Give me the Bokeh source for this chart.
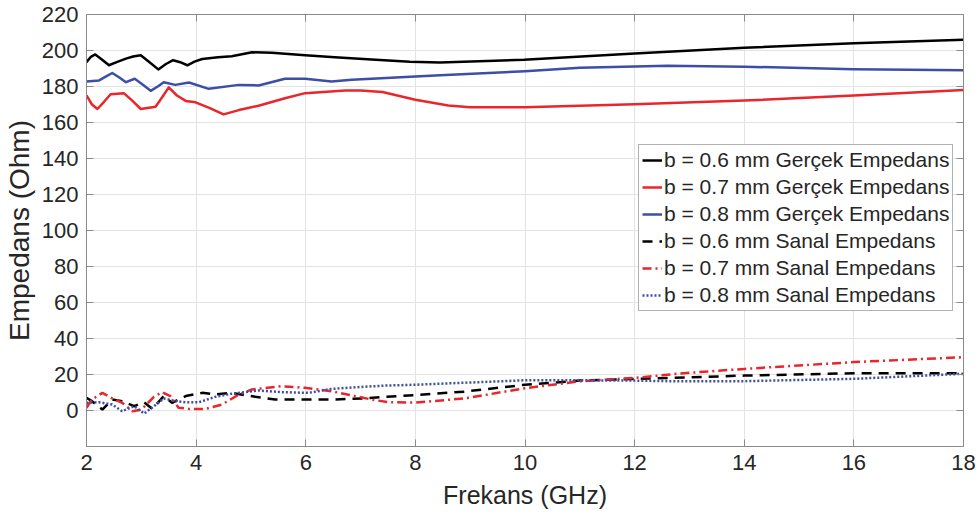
from bokeh.plotting import figure
from bokeh.models import LinearAxis, FixedTicker, Legend, LegendItem, Range1d
from bokeh.embed import file_html
from bokeh.resources import INLINE

# ---- data ----
f_re06 = [2.0, 2.08, 2.16, 2.28, 2.41, 2.55, 2.72, 2.85, 2.99, 3.15, 3.31, 3.45, 3.58, 3.71, 3.84, 3.97, 4.11, 4.4, 4.65, 5.02, 5.38, 5.99, 6.53, 7.2, 7.9, 8.45, 9.98, 12, 14, 16, 18]
re06 = [193.5, 196.5, 197.8, 195, 191.8, 193.5, 195.5, 196.7, 197.4, 193.5, 189.5, 192.5, 194.6, 193.5, 191.8, 193.8, 195.3, 196.2, 196.8, 199, 198.7, 197.4, 196.3, 195, 193.7, 193.3, 194.8, 198.3, 201.5, 204, 206]

f_re07 = [2.0, 2.1, 2.2, 2.32, 2.44, 2.68, 2.84, 2.99, 3.26, 3.38, 3.5, 3.65, 3.81, 3.99, 4.25, 4.5, 4.78, 5.14, 5.62, 5.99, 6.72, 7.0, 7.4, 8.0, 8.6, 9.0, 10, 12, 14, 16, 18]
re07 = [175, 170, 167.5, 171.5, 175.7, 176.3, 172, 167.5, 168.8, 174, 179.5, 175, 172, 171.2, 168, 164.5, 166.9, 169.3, 173.5, 176.3, 177.8, 177.8, 176.9, 172.6, 169.4, 168.5, 168.5, 170.2, 172.2, 175, 178]

f_re08 = [2.0, 2.23, 2.35, 2.47, 2.6, 2.72, 2.88, 3.03, 3.17, 3.3, 3.41, 3.62, 3.87, 4.23, 4.78, 5.14, 5.62, 5.99, 6.47, 6.84, 7.2, 8.0, 8.45, 10, 11, 12, 12.6, 14, 16, 18]
re08 = [182.8, 183.4, 185.5, 187.5, 185, 182.4, 184.3, 181, 177.6, 180, 182.4, 180.9, 182.2, 178.7, 180.9, 180.6, 184.3, 184.3, 182.8, 183.7, 184.3, 185.6, 186.3, 188.5, 190.4, 191.1, 191.5, 191, 189.6, 189]

f_im06 = [2.0, 2.1, 2.29, 2.47, 2.65, 2.87, 3.05, 3.2, 3.41, 3.56, 3.81, 4.11, 4.35, 4.65, 5.08, 5.44, 6.47, 7.07, 7.44, 8.0, 8.9, 10, 11, 12, 12.65, 14, 16, 18]
im06 = [7.0, 5.2, 0.5, 6.1, 5.2, 2.4, 4.6, 0.9, 8, 4.3, 8, 9.8, 8.9, 9.8, 7.6, 6.1, 6.1, 6.7, 7.6, 8.6, 10.5, 14.3, 16.6, 17.5, 18.1, 19.4, 20.7, 20.7]

f_im07 = [2.0, 2.1, 2.29, 2.47, 2.65, 2.84, 3.0, 3.23, 3.38, 3.53, 3.68, 3.87, 4.17, 4.47, 4.78, 5.02, 5.56, 5.98, 6.47, 6.9, 7.2, 7.5, 8.0, 8.9, 10, 11, 12, 12.84, 14, 16, 18]
im07 = [1.5, 6.1, 9.8, 6.7, 4.3, -0.4, 0.5, 7.6, 10.2, 8, 1.5, 0.9, 0.9, 3.3, 8.9, 11.7, 13.5, 12.6, 10.7, 8, 6.1, 4.6, 4.4, 6.7, 12.4, 16.2, 18.1, 20.6, 23.1, 26.9, 29.6]

f_im08 = [2.0, 2.23, 2.47, 2.65, 2.87, 3.05, 3.23, 3.41, 3.62, 3.81, 4.05, 4.35, 4.66, 5.14, 5.56, 6.05, 6.47, 7.07, 7.5, 8.0, 9.2, 10, 11, 12, 12.84, 14, 16, 18]
im08 = [4.3, 4.6, 3.3, -0.4, 2.4, -1.7, 2.4, 6.7, 5.2, 4.6, 4.6, 7.6, 9.4, 11.1, 10.2, 9.8, 12, 13.2, 13.9, 14.3, 15.8, 16.8, 16.8, 16.6, 16.2, 16.3, 17.6, 20.4]

labels = ["b = 0.6 mm Gerçek Empedans", "b = 0.7 mm Gerçek Empedans", "b = 0.8 mm Gerçek Empedans",
          "b = 0.6 mm Sanal Empedans", "b = 0.7 mm Sanal Empedans", "b = 0.8 mm Sanal Empedans"]
x_ticks = [2, 4, 6, 8, 10, 12, 14, 16, 18]
y_ticks = [0, 20, 40, 60, 80, 100, 120, 140, 160, 180, 200, 220]

FONT = "Liberation Sans"
AXC = "#8a8a8a"
TXT = "#262626"
BLACK, RED, BLUE = "#000000", "#e8262b", "#3d4ea6"

p = figure(width=979, height=519, output_backend="svg", toolbar_location=None,
           x_range=Range1d(2, 18), y_range=Range1d(-20, 220),
           min_border_left=84, min_border_right=16, min_border_top=14, min_border_bottom=73)
p.outline_line_color = None
p.background_fill_color = "white"
p.border_fill_color = "white"

xt = FixedTicker(ticks=x_ticks)
yt = FixedTicker(ticks=y_ticks)

for ax in (p.xaxis[0], p.yaxis[0]):
    ax.axis_line_color = AXC
    ax.axis_line_width = 1
    ax.major_tick_in = 7
    ax.major_tick_out = 0
    ax.major_tick_line_color = AXC
    ax.minor_tick_line_color = None
    ax.major_label_text_font = FONT
    ax.major_label_text_font_size = "22px"
    ax.major_label_text_color = TXT
    ax.axis_label_text_font = FONT
    ax.axis_label_text_font_style = "normal"
    ax.axis_label_text_color = TXT

p.xaxis[0].ticker = xt
p.yaxis[0].ticker = yt
p.xaxis[0].axis_label = "Frekans (GHz)"
p.yaxis[0].axis_label = "Empedans (Ohm)"
p.xaxis[0].axis_label_text_font_size = "25px"
p.yaxis[0].axis_label_text_font_size = "28px"
p.xaxis[0].major_label_standoff = 8
p.yaxis[0].major_label_standoff = 8
p.xaxis[0].axis_label_standoff = 8
p.yaxis[0].axis_label_standoff = 4

for loc, tk in (("above", xt), ("right", yt)):
    ax = LinearAxis(ticker=tk)
    ax.axis_line_color = AXC
    ax.major_tick_in = 7
    ax.major_tick_out = 0
    ax.major_tick_line_color = AXC
    ax.minor_tick_line_color = None
    ax.major_label_text_font_size = "0px"
    ax.major_label_text_color = None
    ax.major_label_standoff = 0
    p.add_layout(ax, loc)

p.xgrid.ticker = xt
p.ygrid.ticker = yt
p.xgrid.grid_line_color = "#e3e3e3"
p.ygrid.grid_line_color = "#e3e3e3"

W = 2.5
r1 = p.line(f_re06, re06, line_color=BLACK, line_width=W, line_join="round")
r2 = p.line(f_re07, re07, line_color=RED, line_width=W, line_join="round")
r3 = p.line(f_re08, re08, line_color=BLUE, line_width=W, line_join="round")
r4 = p.line(f_im06, im06, line_color=BLACK, line_width=W, line_dash="10 7")
r5 = p.line(f_im07, im07, line_color=RED, line_width=W, line_dash="9 4 2 4")
r6 = p.line(f_im08, im08, line_color=BLUE, line_width=W, line_dash="2 2")

legend = Legend(items=[LegendItem(label=l, renderers=[r]) for l, r in zip(labels, [r1, r2, r3, r4, r5, r6])],
                location=(552, 135))
legend.label_text_font = FONT
legend.label_text_font_size = "21px"
legend.label_text_color = TXT
legend.border_line_color = "#666666"
legend.border_line_width = 1
legend.background_fill_color = "white"
legend.background_fill_alpha = 1
legend.glyph_width = 20
legend.glyph_height = 24
legend.label_height = 24
legend.label_standoff = 2
legend.spacing = 3
legend.padding = 3
legend.margin = 0
p.add_layout(legend)

open("out.html", "w").write(file_html(p, INLINE))
